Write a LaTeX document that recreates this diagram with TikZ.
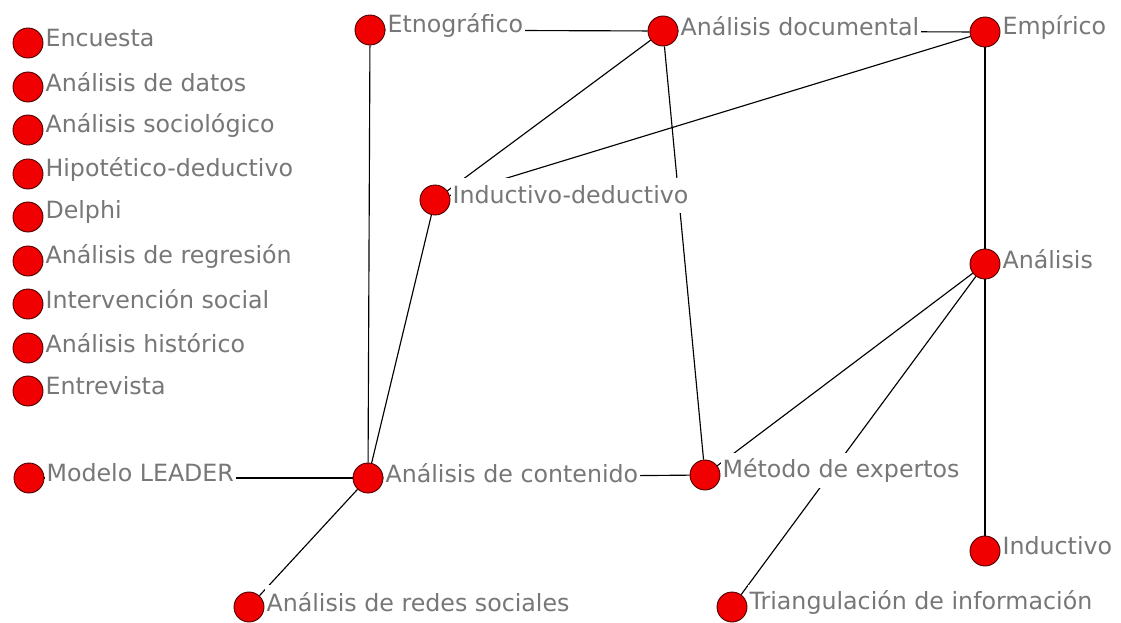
\documentclass[tikz,border=0pt]{standalone}
\usepackage{fontspec}
\setmainfont{DejaVu Sans}
\usepackage{xcolor}
\usepackage{tikz}
\usetikzlibrary{backgrounds}
\definecolor{node_red}{HTML}{F00000}
\definecolor{node_rim}{HTML}{4A0000}
\definecolor{label_gray}{HTML}{777777}

\begin{document}
\begin{tikzpicture}[x=0.02cm, y=-0.02cm,
  every node/.style={font=\fontsize{13.5}{15}\selectfont},
  actor/.style={circle, fill=node_red, draw=node_rim, line width=0.5pt, minimum size=0.6cm, inner sep=0pt},
  name_lbl/.style={text=label_gray, fill=white, inner xsep=1pt, inner ysep=0pt, minimum height=0.7cm, yshift=0.1cm},
  tie/.style={line width=0.65pt, black}]

  \useasboundingbox (0,0) rectangle (1121,622);

  % isolated methods
  \node[actor, label={[name_lbl]right:Encuesta}] (encuesta) at (28,43) {};
  \node[actor, label={[name_lbl]right:Análisis de datos}] (datos) at (28,87) {};
  \node[actor, label={[name_lbl]right:Análisis sociológico}] (sociologico) at (28,130) {};
  \node[actor, label={[name_lbl]right:Hipotético-deductivo}] (hipotetico) at (28,174) {};
  \node[actor, label={[name_lbl]right:Delphi}] (delphi) at (28,217) {};
  \node[actor, label={[name_lbl]right:Análisis de regresión}] (regresion) at (28,261) {};
  \node[actor, label={[name_lbl]right:Intervención social}] (intervencion) at (28,304) {};
  \node[actor, label={[name_lbl]right:Análisis histórico}] (historico) at (28,348) {};
  \node[actor, label={[name_lbl]right:Entrevista}] (entrevista) at (28,391) {};

  % connected methods
  \node[actor, label={[name_lbl]right:Modelo LEADER}] (leader) at (29,478) {};
  \node[actor, label={[name_lbl]right:Análisis de contenido}] (contenido) at (368,478) {};
  \node[actor, label={[name_lbl]right:Análisis de redes sociales}] (redes) at (249,607) {};
  \node[actor, label={[name_lbl]right:Etnográfico}] (etno) at (370,30) {};
  \node[actor, label={[name_lbl]right:Análisis documental}] (documental) at (663,31) {};
  \node[actor, label={[name_lbl]right:Empírico}] (empirico) at (985,32) {};
  \node[actor, label={[name_lbl]right:Inductivo-deductivo}] (indded) at (435,200) {};
  \node[actor, label={[name_lbl]right:Análisis}] (analisis) at (985,264) {};
  \node[actor, label={[name_lbl]right:Método de expertos}] (expertos) at (705,475) {};
  \node[actor, label={[name_lbl]right:Inductivo}] (inductivo) at (985,551) {};
  \node[actor, label={[name_lbl]right:Triangulación de información}] (triang) at (732,607) {};

  \begin{scope}[on background layer]
    \draw[tie] (leader) -- (contenido);
    \draw[tie] (contenido) -- (redes);
    \draw[tie] (contenido) -- (etno);
    \draw[tie] (contenido) -- (indded);
    \draw[tie] (contenido) -- (expertos);
    \draw[tie] (etno) -- (documental);
    \draw[tie] (documental) -- (empirico);
    \draw[tie] (documental) -- (indded);
    \draw[tie] (documental) -- (expertos);
    \draw[tie] (empirico) -- (indded);
    \draw[tie] (empirico) -- (analisis);
    \draw[tie] (analisis) -- (inductivo);
    \draw[tie] (analisis) -- (expertos);
    \draw[tie] (analisis) -- (triang);
  \end{scope}

\end{tikzpicture}
\end{document}
